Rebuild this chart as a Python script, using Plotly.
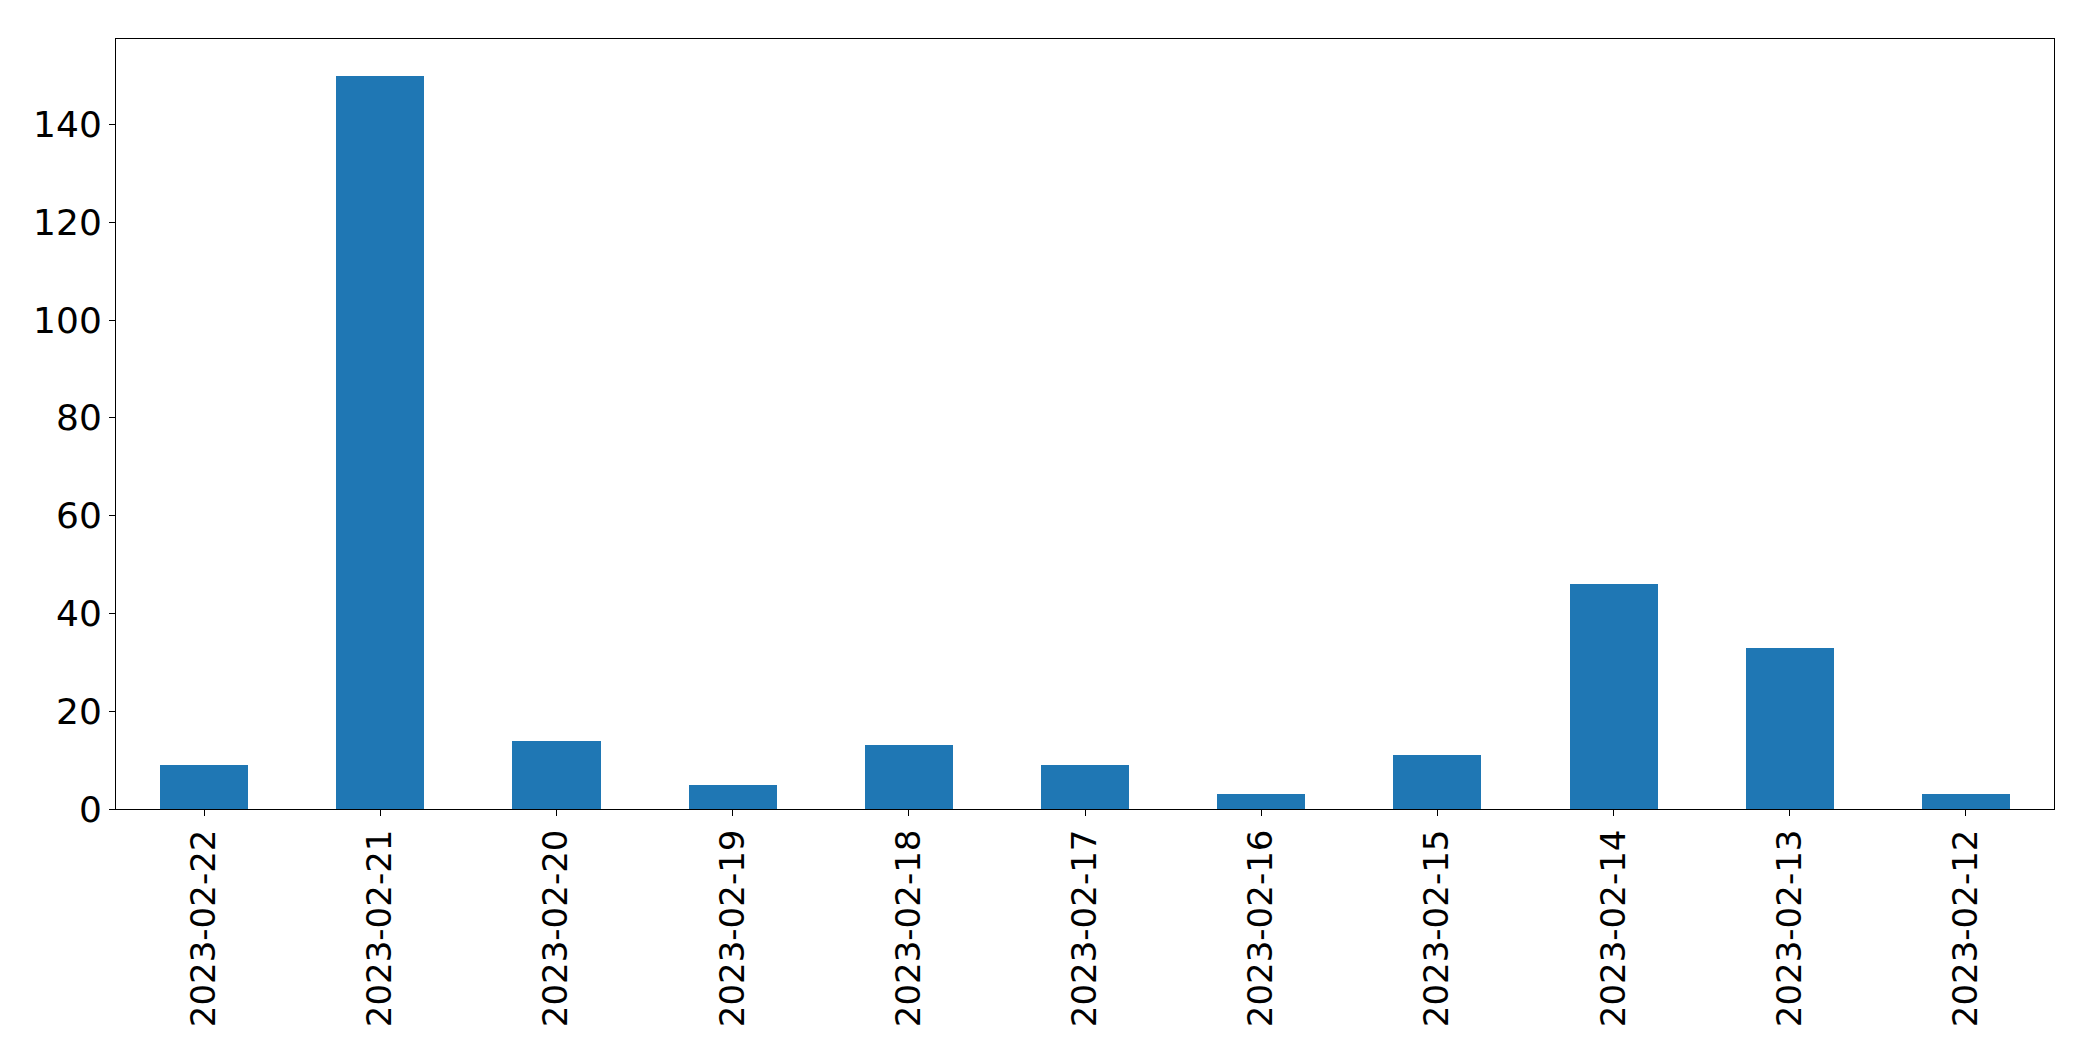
import plotly.graph_objects as go

dates = ["2023-02-22", "2023-02-21", "2023-02-20", "2023-02-19", "2023-02-18",
         "2023-02-17", "2023-02-16", "2023-02-15", "2023-02-14", "2023-02-13",
         "2023-02-12"]
counts = [9, 150, 14, 5, 13, 9, 3, 11, 46, 33, 3]
y_ticks = [0, 20, 40, 60, 80, 100, 120, 140]

fig = go.Figure(go.Bar(x=list(range(len(dates))), y=counts, width=0.5,
                       marker=dict(color="#1f77b4", line=dict(width=0))))

fig.update_layout(
    width=2093, height=1061,
    margin=dict(l=116, r=39, t=39, b=252),
    paper_bgcolor="white", plot_bgcolor="white",
    font=dict(family="DejaVu Sans", size=34, color="black"),
    showlegend=False, bargap=0,
)
fig.update_xaxes(
    range=[-0.5, len(dates) - 0.5],
    tickmode="array", tickvals=list(range(len(dates))), ticktext=dates,
    tickangle=-90, ticks="outside", ticklen=6, tickwidth=1, tickcolor="black",
    showline=True, mirror=True, linecolor="black", linewidth=1,
    showgrid=False, zeroline=False, automargin=False,
)
fig.update_yaxes(
    range=[0, max(counts) * 1.05],
    tickmode="array", tickvals=y_ticks, ticktext=[str(v) for v in y_ticks],
    tickfont=dict(size=36),
    ticks="outside", ticklen=6, tickwidth=1, tickcolor="black",
    showline=True, mirror=True, linecolor="black", linewidth=1,
    showgrid=False, zeroline=False, automargin=False,
)

fig.write_html("out.html")
